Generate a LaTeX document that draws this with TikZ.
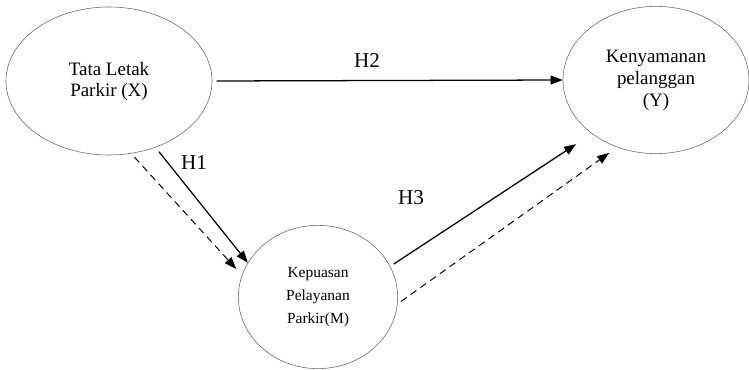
\documentclass[tikz,border=0pt]{standalone}
\usepackage{fontspec}
\setmainfont{Liberation Serif}
\usetikzlibrary{arrows.meta,shapes.geometric}

\begin{document}
\begin{tikzpicture}[
  x=0.025cm, y=-0.025cm,
  var/.style={draw=black!60, line width=0.4pt, ellipse, inner sep=0pt, align=center},
  hyp/.style={font=\fontsize{15}{18}\selectfont},
  link/.style={->, line width=0.9pt},
  indirect/.style={->, dashed, dash pattern=on 5pt off 3.5pt, line width=0.7pt},
  >={Triangle[length=3mm, width=2.2mm]}
]
  \useasboundingbox (0,0) rectangle (749,369);

  % Nodes
  \node[var, minimum width=5.15cm, minimum height=3.7cm,
        font=\fontsize{13.5}{15}\selectfont] (tata) at (109,81) {Tata Letak\\Parkir (X)};
  \node[var, minimum width=4.65cm, minimum height=3.68cm,
        font=\fontsize{13.5}{15.6}\selectfont] (nyaman) at (656,80) {Kenyamanan\\pelanggan\\(Y)};
  \node[var, minimum width=3.98cm, minimum height=3.58cm,
        font=\fontsize{11}{16.3}\selectfont] (puas) at (318,297) {Kepuasan\\Pelayanan\\Parkir(M)};

  % Labels
  \node[hyp] (h1) at (194,163) {H1};
  \node[hyp] (h2) at (367,61) {H2};
  \node[hyp] (h3) at (411,198) {H3};

  % Arrows
  \draw[link, shorten <=3pt] (tata.east) -- (nyaman.west);
  \draw[link, shorten <=4pt] (tata.-55) -- (puas.154);
  \draw[indirect, shorten <=3.5pt, shorten >=6pt] (tata.-73) -- (puas.164);
  \draw[link, shorten <=3pt, shorten >=13.5pt] (puas.23) -- (nyaman.220);
  \draw[indirect, shorten <=3pt, shorten >=7pt] (puas.-5) -- (nyaman.240);
\end{tikzpicture}
\end{document}
